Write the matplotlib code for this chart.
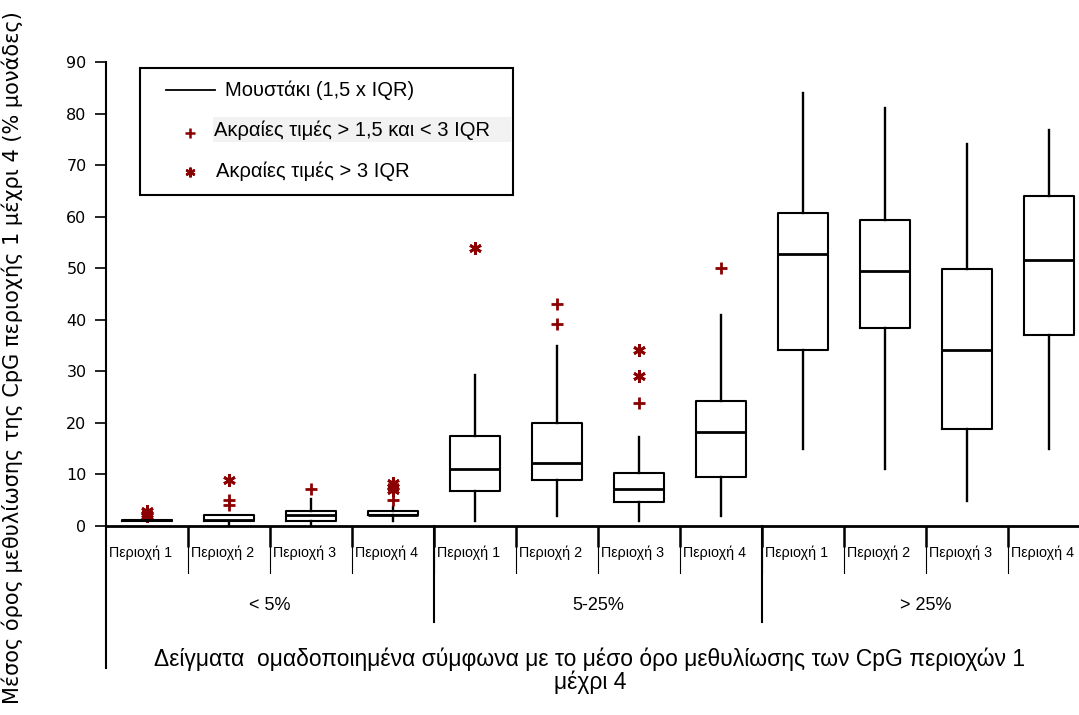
import matplotlib
matplotlib.use("Agg")
import matplotlib.pyplot as plt
from matplotlib.patches import Rectangle
from matplotlib.lines import Line2D

# data
regions = ["Περιοχή 1", "Περιοχή 2", "Περιοχή 3", "Περιοχή 4"] * 3
groups = ["< 5%", "5-25%", "> 25%"]

q1 = [1.0, 1.0, 1.0, 2.1, 6.8, 8.9, 4.7, 9.6, 34.1, 38.5, 18.9, 37.0]
med = [1.1, 1.2, 2.1, 2.2, 11.1, 12.2, 7.2, 18.2, 52.7, 49.5, 34.1, 51.6]
q3 = [1.2, 2.2, 3.0, 3.0, 17.5, 19.9, 10.3, 24.2, 60.8, 59.3, 49.8, 64.0]
whislo = [1.0, 0.2, 0.2, 1.0, 1.0, 2.0, 1.0, 2.0, 14.9, 11.0, 4.9, 14.9]
whishi = [1.2, 2.2, 5.2, 3.7, 29.2, 34.9, 17.2, 41.0, 84.0, 81.1, 74.0, 76.8]

# outliers > 1.5 and < 3 IQR (+) and > 3 IQR (*)
mild = [[], [4.0, 5.0], [7.2], [5.0], [], [39.1, 43.1], [23.8], [50.0], [], [], [], []]
extreme = [[1.9, 2.4, 2.9], [8.9], [], [7.0, 7.6, 8.3], [53.9], [], [29.1, 34.1], [], [], [], [], []]

W, H = 1079, 715
RED = "#8b0000"
GR = ["Liberation Sans", "DejaVu Sans"]


def fpos(x, y):
    # pixel position -> figure fraction
    return x / W, 1 - y / H


fig = plt.figure(figsize=(W / 100, H / 100), dpi=100)
ax = fig.add_axes([106 / W, 189 / H, 984 / W, 464 / H])

stats = []
for i in range(len(med)):
    stats.append(dict(med=med[i], q1=q1[i], q3=q3[i], whislo=whislo[i],
                      whishi=whishi[i], fliers=[]))

pos = list(range(1, len(med) + 1))
ax.bxp(stats, positions=pos, widths=0.61, showcaps=False, showfliers=False,
       boxprops=dict(color="black", linewidth=1.5),
       whiskerprops=dict(color="black", linewidth=1.7),
       medianprops=dict(color="black", linewidth=2.0))

for p, vals in zip(pos, mild):
    if vals:
        ax.plot([p] * len(vals), vals, "+", color=RED, ms=8, mew=2, clip_on=False)
for p, vals in zip(pos, extreme):
    if vals:
        ax.plot([p] * len(vals), vals, marker=(6, 2, 0), ls="none", color=RED,
                ms=9, mew=2, clip_on=False)

ax.set_xlim(0.5, 12.5)
ax.set_ylim(0, 90)
ax.set_yticks(range(0, 100, 10))
ax.tick_params(axis="y", direction="out", length=8, width=1.2, labelsize=11.5, pad=6)
for lab in ax.get_yticklabels():
    lab.set_family("DejaVu Sans")
ax.set_xticks([p + 0.5 for p in pos[:-1]])
ax.set_xticklabels([])
ax.tick_params(axis="x", direction="out", length=15, width=1.8)
ax.spines["top"].set_visible(False)
ax.spines["right"].set_visible(False)
ax.spines["left"].set_linewidth(1.5)
ax.spines["bottom"].set_linewidth(2)

tr = ax.get_xaxis_transform()
for p, lab in zip(pos, regions):
    # labels sit near the left edge of their cell, as in the original
    ax.text(p - 0.46, -0.058, lab, transform=tr, ha="left", va="center",
            fontsize=10.3, family=GR)
    ax.plot([p + 0.5, p + 0.5], [0, -0.101], transform=tr, clip_on=False,
            color="black", lw=0.8)
for k, g in enumerate(groups):
    ax.text(2.5 + 4 * k, -0.172, g, transform=tr, ha="center", va="center",
            fontsize=13, family=GR)
    if k > 0:
        ax.plot([0.5 + 4 * k] * 2, [0, -0.207], transform=tr, clip_on=False,
                color="black", lw=1.5)
ax.plot([0.5, 0.5], [0, -0.306], transform=tr, clip_on=False, color="black", lw=1.5)

x, y = fpos(590, 671)
fig.text(x, y, "Δείγματα  ομαδοποιημένα σύμφωνα με το μέσο όρο μεθυλίωσης των CpG περιοχών 1\nμέχρι 4",
         ha="center", va="center", fontsize=16.5, family=GR, linespacing=0.98)
x, y = fpos(12, 358)
fig.text(x, y, "Μέσος όρος μεθυλίωσης της CpG περιοχής 1 μέχρι 4 (% μονάδες)",
         rotation=90, ha="center", va="center", fontsize=15, family="DejaVu Sans")

# legend drawn by hand to match the original box
x0, y0 = fpos(140, 195)
x1, y1 = fpos(513, 68)
fig.add_artist(Rectangle((x0, y0), x1 - x0, y1 - y0, transform=fig.transFigure,
                         facecolor="white", edgecolor="black", lw=1.5))
x0, y0 = fpos(213, 142)
x1, y1 = fpos(511, 117)
fig.add_artist(Rectangle((x0, y0), x1 - x0, y1 - y0, transform=fig.transFigure,
                         facecolor="#f2f2f2", edgecolor="none"))
xa, ya = fpos(166, 90)
xb, _ = fpos(215, 90)
fig.add_artist(Line2D([xa, xb], [ya, ya], transform=fig.transFigure, color="black", lw=1.3))
x, y = fpos(225, 90)
fig.text(x, y, "Μουστάκι (1,5 x IQR)", ha="left", va="center", fontsize=14.5, family=GR)
x, y = fpos(190, 133)
fig.add_artist(Line2D([x], [y], transform=fig.transFigure, marker="+", color=RED, ms=7, mew=1.8))
x, y = fpos(214, 130)
fig.text(x, y, "Ακραίες τιμές > 1,5 και < 3 IQR", ha="left", va="center", fontsize=14.5, family=GR)
x, y = fpos(190, 172)
fig.add_artist(Line2D([x], [y], transform=fig.transFigure, marker=(6, 2, 0), color=RED, ms=7, mew=1.8))
x, y = fpos(216, 171)
fig.text(x, y, "Ακραίες τιμές > 3 IQR", ha="left", va="center", fontsize=14.5, family=GR)

fig.savefig("out.png", dpi=100)
